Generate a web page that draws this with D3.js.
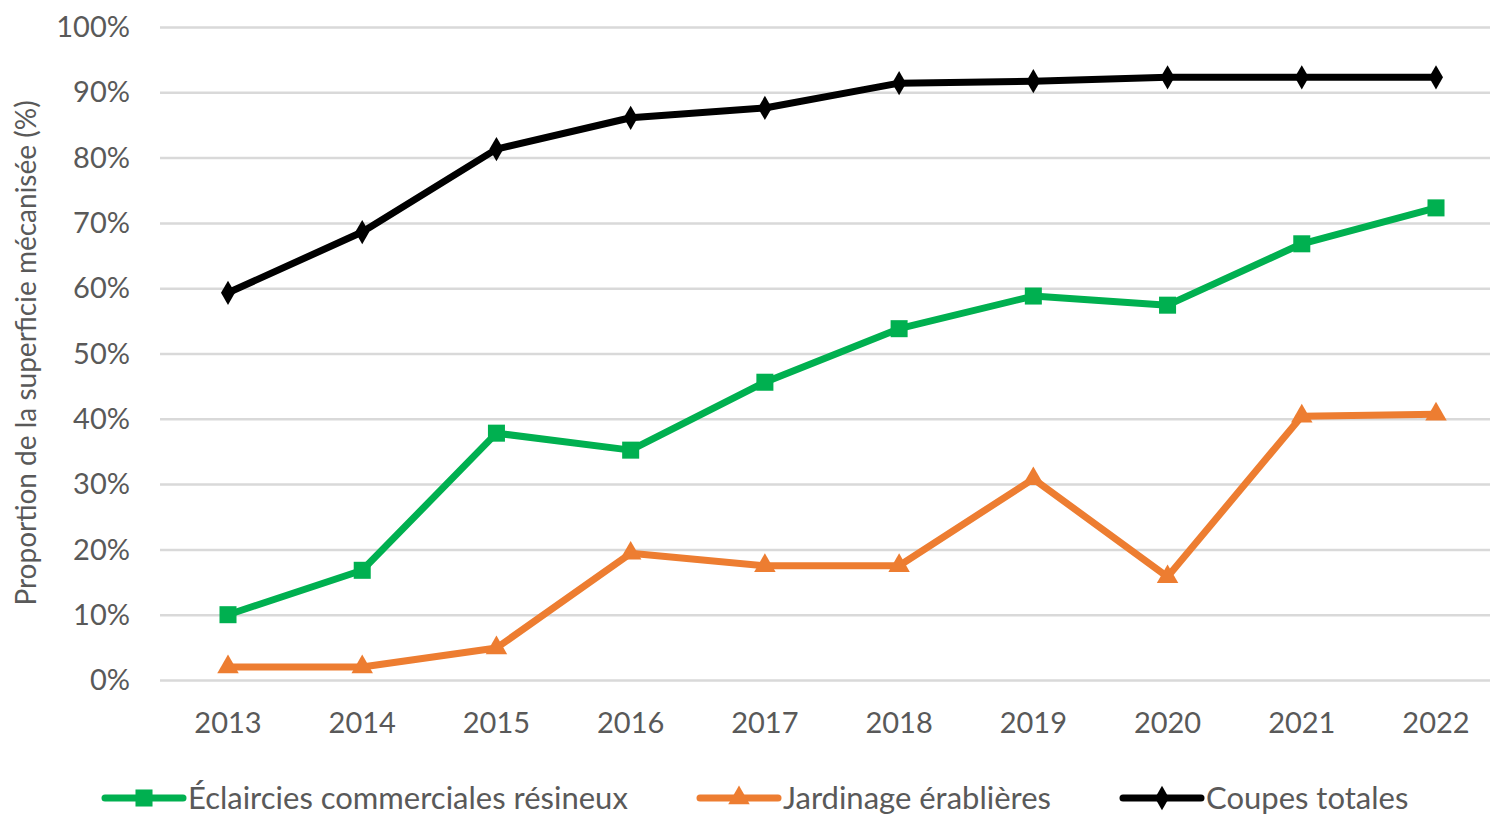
<!DOCTYPE html>
<html lang="fr">
<head>
<meta charset="utf-8">
<title>Proportion de la superficie mécanisée</title>
<style>
  body { margin: 0; background: #fff; }
  svg { display: block; }
  .grid line { stroke: #d9d9d9; stroke-width: 2.5; }
  .grid path { display: none; }
  text { font-family: Lato, "Open Sans", sans-serif; fill: #595959; }
</style>
</head>
<body>
<div id="chart"></div>
<script src="https://cdn.jsdelivr.net/npm/d3@7"></script>
<script>
var years = ["2013","2014","2015","2016","2017","2018","2019","2020","2021","2022"];
var eclaircies = [10.0, 16.8, 37.8, 35.2, 45.6, 53.8, 58.8, 57.4, 66.8, 72.3];
var jardinage  = [2.0, 2.0, 4.9, 19.4, 17.5, 17.5, 30.8, 15.8, 40.4, 40.7];
var coupes     = [59.3, 68.6, 81.3, 86.1, 87.6, 91.4, 91.7, 92.3, 92.3, 92.3];
var yTicks = [0,10,20,30,40,50,60,70,80,90,100];

var series = [
  {name: "Éclaircies commerciales résineux", values: eclaircies, color: "#00b050", sym: d3.symbolSquare, size: 290, lx: 105, lw: 78},
  {name: "Jardinage érablières", values: jardinage, color: "#ed7d31", sym: d3.symbolTriangle, size: 200, lx: 700, lw: 78},
  {name: "Coupes totales", values: coupes, color: "#000000", sym: d3.symbolDiamond, size: 170, lx: 1123, lw: 78}
];

var width = 1496, height = 815;
var svg = d3.select("#chart").append("svg").attr("width", width).attr("height", height);

var x = d3.scalePoint().domain(years).range([228, 1436]);
var y = d3.scaleLinear().domain([0, 100]).range([680, 27]);

// grid
svg.append("g").attr("class", "grid")
  .attr("transform", "translate(160,0)")
  .call(d3.axisLeft(y).tickValues(yTicks).tickSize(-1330).tickFormat(""));

// y labels
svg.append("g").selectAll("text").data(yTicks).enter().append("text")
  .attr("x", 130).attr("y", function(d){ return y(d); })
  .attr("dy", "0.35em").attr("text-anchor", "end")
  .style("font-size", "29px")
  .text(function(d){ return d + "%"; });

// x labels
svg.append("g").selectAll("text").data(years).enter().append("text")
  .attr("x", function(d){ return x(d); }).attr("y", 733)
  .attr("text-anchor", "middle").style("font-size", "29px")
  .text(function(d){ return d; });

// y title
svg.append("text")
  .attr("transform", "translate(36,353) rotate(-90)")
  .attr("text-anchor", "middle").style("font-size", "28px")
  .text("Proportion de la superficie mécanisée (%)");

var line = d3.line().x(function(d, i){ return x(years[i]); }).y(function(d){ return y(d); });

series.forEach(function(s){
  var g = svg.append("g");
  g.append("path").datum(s.values).attr("d", line)
    .attr("fill", "none").attr("stroke", s.color).attr("stroke-width", 7)
    .attr("stroke-linejoin", "round");
  g.selectAll("path.m").data(s.values).enter().append("path").attr("class", "m")
    .attr("d", d3.symbol().type(s.sym).size(s.size))
    .attr("transform", function(d, i){ return "translate(" + x(years[i]) + "," + y(d) + ")"; })
    .attr("fill", s.color);

  // legend
  var ly = 798;
  g.append("line").attr("x1", s.lx).attr("x2", s.lx + s.lw).attr("y1", ly).attr("y2", ly)
    .attr("stroke", s.color).attr("stroke-width", 7).attr("stroke-linecap", "round");
  g.append("path").attr("d", d3.symbol().type(s.sym).size(s.size))
    .attr("transform", "translate(" + (s.lx + s.lw / 2) + "," + ly + ")").attr("fill", s.color);
  g.append("text").attr("x", s.lx + s.lw + 5).attr("y", ly).attr("dy", "0.35em")
    .style("font-size", "31px").text(s.name);
});
</script>
</body>
</html>
